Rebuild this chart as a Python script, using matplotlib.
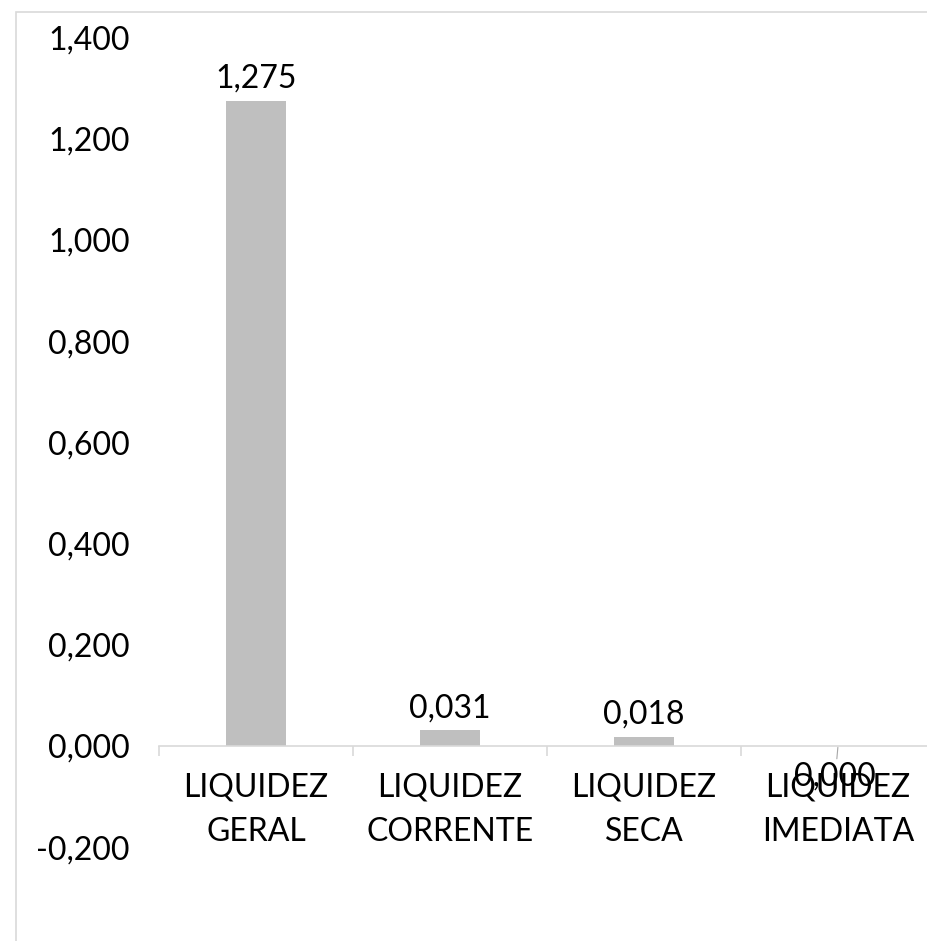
import matplotlib
matplotlib.use("Agg")
import matplotlib.pyplot as plt
from matplotlib.patches import Rectangle

plt.rcParams['font.family'] = ['Lato', 'DejaVu Sans']

categories = ["LIQUIDEZ\nGERAL", "LIQUIDEZ\nCORRENTE", "LIQUIDEZ\nSECA", "LIQUIDEZ\nIMEDIATA"]
values = [1.275, 0.031, 0.018, 0.000]
value_labels = ["1,275", "0,031", "0,018", "0,000"]
y_ticks = [-0.2, 0.0, 0.2, 0.4, 0.6, 0.8, 1.0, 1.2, 1.4]
y_tick_labels = ["-0,200", "0,000", "0,200", "0,400", "0,600", "0,800", "1,000", "1,200", "1,400"]

W, H = 927, 941
FS = 23
fig = plt.figure(figsize=(W / 100, H / 100), dpi=100)
fig.patch.set_facecolor("white")

# chart-area frame (runs off the right and bottom edges)
fig.patches.append(Rectangle((16 / W, -0.05), 1.2, 1.05 - 12 / H,
                             transform=fig.transFigure, fill=False,
                             edgecolor="#D9D9D9", linewidth=1.2))

ymin, ymax = -0.2, 1.4
px_per_unit = 506
zero_px = 746
bottom_px = zero_px + (0 - ymin) * px_per_unit
top_px = zero_px - ymax * px_per_unit
left_px, cat_w = 159, 194
ax = fig.add_axes([left_px / W, (H - bottom_px) / H,
                   4 * cat_w / W, (bottom_px - top_px) / H])
ax.set_facecolor("none")

x = list(range(len(categories)))
bars = ax.bar(x, values, width=60 / cat_w, color="#BFBFBF", zorder=2)

ax.set_xlim(-0.5, 3.5)
ax.set_ylim(ymin, ymax)

for s in ["top", "right", "left"]:
    ax.spines[s].set_visible(False)
ax.spines["bottom"].set_position(("data", 0))
ax.spines["bottom"].set_color("#D9D9D9")
ax.spines["bottom"].set_linewidth(1.2)

ax.set_yticks(y_ticks)
ax.set_yticklabels(y_tick_labels, fontsize=FS)
ax.tick_params(axis="y", length=0, pad=21)

ax.set_xticks(x)
ax.set_xticklabels(categories, fontsize=FS, linespacing=1.62)
ax.set_xticks([-0.5, 0.5, 1.5, 2.5, 3.5], minor=True)
ax.tick_params(axis="x", which="major", length=0, pad=19)
ax.tick_params(axis="x", which="minor", length=7.5, color="#D9D9D9", width=1.2)

for i, (v, lab) in enumerate(zip(values[:3], value_labels[:3])):
    ax.annotate(lab, (i, v), xytext=(0, 5), textcoords="offset points",
                ha="center", va="bottom", fontsize=FS)

# last label sits below the axis with a short leader line
ax.annotate(value_labels[3], (3, values[3]), xytext=(-2, -22),
            textcoords="offset points", ha="center", va="center", fontsize=FS,
            arrowprops=dict(arrowstyle="-", color="#A6A6A6", lw=0.8,
                            shrinkA=11, shrinkB=1))

fig.savefig("out.png", dpi=100)
